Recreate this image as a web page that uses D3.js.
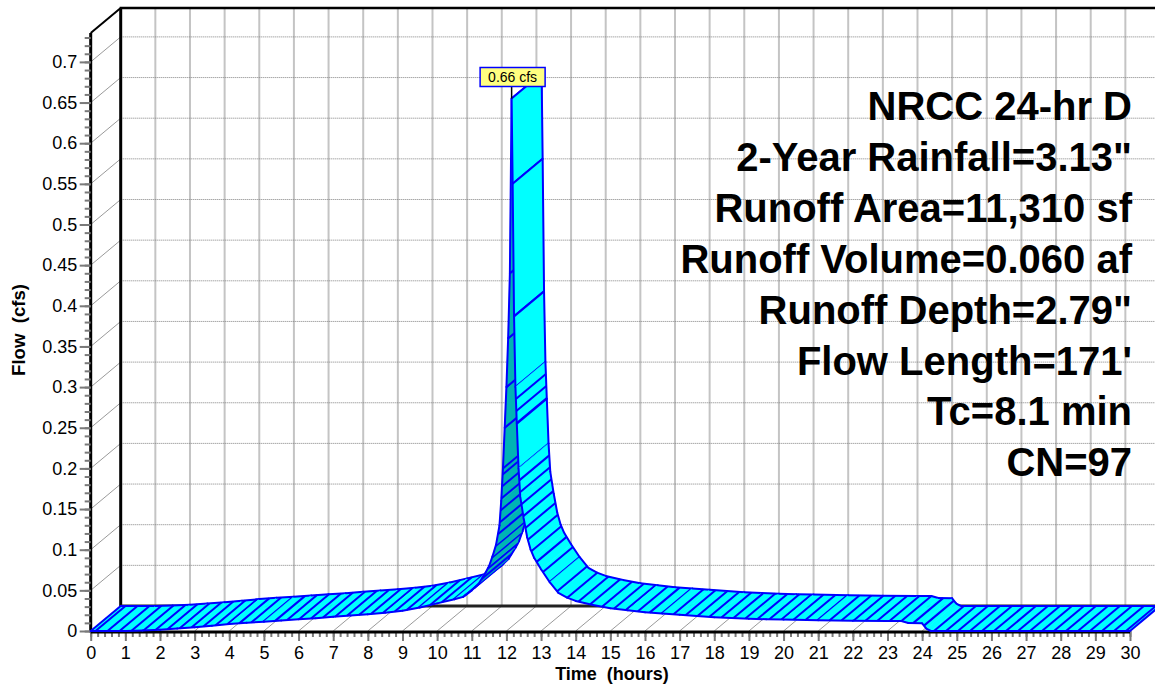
<!DOCTYPE html>
<html><head><meta charset="utf-8">
<script src="https://cdn.jsdelivr.net/npm/d3@7"></script>
<style>body{margin:0;background:#fff;overflow:hidden}svg{display:block}</style>
</head><body>
<svg id="c" width="1155" height="685"></svg>
<script>
// ---------- data ----------
const hours = [0, 1, 1.5, 2, 2.5, 3, 3.5, 4, 4.5, 5, 5.5, 6, 6.5, 7, 7.5, 8, 8.5, 9, 9.5, 10, 10.5, 10.75,
  11, 11.2, 11.4, 11.5, 11.6, 11.7, 11.8, 11.85, 11.9, 11.95, 12.0, 12.05, 12.1, 12.15, 12.18, 12.22, 12.26, 12.3, 12.35,
  12.4, 12.5, 12.6, 12.7, 12.8, 13.0, 13.25, 13.5, 13.75, 14, 14.5, 15, 15.5, 16, 16.5, 17, 17.5, 18, 18.5,
  19, 19.5, 20, 21, 22, 23, 23.4, 23.6, 24.0, 24.12, 24.25, 30];
const flowCfs = [0, 0, 0.0005, 0.0015, 0.003, 0.0045, 0.0065, 0.0085, 0.010, 0.0115, 0.013, 0.0145, 0.0158, 0.0175, 0.019, 0.0205, 0.0225, 0.025, 0.029, 0.034, 0.039, 0.042,
  0.050, 0.058, 0.072, 0.080, 0.092, 0.106, 0.130, 0.160, 0.200, 0.250, 0.300, 0.360, 0.440, 0.655, 0.550, 0.387, 0.300, 0.255, 0.200,
  0.165, 0.138, 0.115, 0.100, 0.090, 0.076, 0.060, 0.047, 0.041, 0.037, 0.032, 0.028, 0.0255, 0.023, 0.0215, 0.020, 0.0185, 0.017, 0.016,
  0.0152, 0.0145, 0.014, 0.0132, 0.0127, 0.0124, 0.0122, 0.0098, 0.0095, 0.003, 0, 0];
const peakLabel = "0.66 cfs";
const xTickValues = d3.range(0, 31);
const xMinorTicks = d3.range(0, 151).map(i => i / 5);
const yTickValues = d3.range(0, 15).map(i => i * 0.05);
const yTickLabels = ["0","0.05","0.1","0.15","0.2","0.25","0.3","0.35","0.4","0.45","0.5","0.55","0.6","0.65","0.7"];
const yMinorTicks = d3.range(0, 74).map(i => i / 100);
const infoLines = ["NRCC 24-hr D", "2-Year Rainfall=3.13\"", "Runoff Area=11,310 sf", "Runoff Volume=0.060 af",
  "Runoff Depth=2.79\"", "Flow Length=171'", "Tc=8.1 min", "CN=97"];
const xTitle = "Time  (hours)";
const yTitle = "Flow  (cfs)";

// ---------- layout ----------
const svg = d3.select("#c");
const x = d3.scaleLinear().domain([0, 30]).range([90.7, 1130]);
const y = d3.scaleLinear().domain([0, 0.7]).range([631, 61.9]);
const DX = 30, DY = -25;
const yTopVal = 0.7355;
const FONT = "'Liberation Sans', Arial, Helvetica, sans-serif";
const BLUE = "#0000ff";

// back wall vertical grid
svg.append("g").selectAll("line").data(xTickValues.filter(d => d > 0)).join("line")
  .attr("x1", d => x(d) + DX).attr("x2", d => x(d) + DX)
  .attr("y1", y(yTopVal) + DY).attr("y2", y(0) + DY)
  .attr("stroke", "#c4c4c4").attr("stroke-width", 2);
// back wall horizontal grid (dotted)
svg.append("g").selectAll("line").data(yTickValues.filter(d => d > 0)).join("line")
  .attr("x1", x(0) + DX).attr("x2", 1160)
  .attr("y1", d => y(d) + DY).attr("y2", d => y(d) + DY)
  .attr("stroke", "#808080").attr("stroke-width", 1).attr("stroke-dasharray", "1,1");
// left wall diagonals
svg.append("g").selectAll("line").data(yTickValues.filter(d => d > 0)).join("line")
  .attr("x1", x(0)).attr("x2", x(0) + DX)
  .attr("y1", d => y(d)).attr("y2", d => y(d) + DY)
  .attr("stroke", "#9a9a9a").attr("stroke-width", 1);
// floor diagonals
svg.append("g").selectAll("line").data(xTickValues.filter(d => d > 0 && d < 30)).join("line")
  .attr("x1", d => x(d)).attr("x2", d => x(d) + DX)
  .attr("y1", y(0)).attr("y2", y(0) + DY)
  .attr("stroke", "#9a9a9a").attr("stroke-width", 1);

// frame lines
const frame = svg.append("g").attr("stroke", "#000").attr("fill", "none");
frame.append("line").attr("x1", x(0) + DX).attr("x2", x(0) + DX).attr("y1", y(yTopVal) + DY).attr("y2", y(0) + DY).attr("stroke-width", 3);
frame.append("line").attr("x1", x(0) + DX - 1).attr("x2", 1160).attr("y1", y(yTopVal) + DY).attr("y2", y(yTopVal) + DY).attr("stroke-width", 2.5);
frame.append("line").attr("x1", x(0)).attr("x2", x(0) + DX).attr("y1", y(yTopVal)).attr("y2", y(yTopVal) + DY).attr("stroke-width", 2);
frame.append("line").attr("x1", x(0) + DX).attr("x2", 1160).attr("y1", y(0) + DY).attr("y2", y(0) + DY).attr("stroke", "#222").attr("stroke-width", 3);

// axes
const axisStyle = g => {
  g.select(".domain").remove();
  g.selectAll(".tick line").attr("stroke", "#7a7a7a").attr("stroke-width", 2);
  g.selectAll(".tick text").attr("fill", "#000").attr("font-size", 18).attr("font-family", FONT);
};
svg.append("g").attr("transform", `translate(0,${y(0)})`)
  .call(d3.axisBottom(x).tickValues(xMinorTicks).tickFormat("").tickSize(6).tickSizeOuter(0)).call(axisStyle);
svg.append("g").attr("transform", `translate(0,${y(0)})`)
  .call(d3.axisBottom(x).tickValues(xTickValues).tickFormat(d3.format("d")).tickSize(10).tickPadding(5).tickSizeOuter(0)).call(axisStyle);
svg.append("g").attr("transform", `translate(${x(0)},0)`)
  .call(d3.axisLeft(y).tickValues(yMinorTicks).tickFormat("").tickSize(6).tickSizeOuter(0)).call(axisStyle);
svg.append("g").attr("transform", `translate(${x(0)},0)`)
  .call(d3.axisLeft(y).tickValues(yTickValues).tickFormat((d, i) => yTickLabels[i]).tickSize(11).tickPadding(2.5).tickSizeOuter(0)).call(axisStyle);

frame.append("line").attr("x1", x(0)).attr("x2", x(0)).attr("y1", y(yTopVal)).attr("y2", y(0) + 1.5).attr("stroke-width", 3);
svg.append("line").attr("x1", x(0)).attr("x2", x(30)).attr("y1", y(0) + 1).attr("y2", y(0) + 1).attr("stroke", "#000").attr("stroke-width", 3);

// ---------- ribbon (3-D band, drawn segment by segment in time order) ----------
const pts = hours.map((t, i) => ({ fx: x(t), fy: y(flowCfs[i]) }));
const rib = svg.append("g");
const S = 12;          // spacing of the depth (hatch) lines along the curve, px
let acc = S * 0.6;     // distance since the last hatch line
for (let i = 0; i < pts.length - 1; i++) {
  const a = pts[i], b = pts[i + 1];
  const sx = b.fx - a.fx, sy = b.fy - a.fy;
  const L = Math.hypot(sx, sy);
  const under = (sx * DY - sy * DX) > 0;
  const poly = [[a.fx, a.fy], [b.fx, b.fy], [b.fx + DX, b.fy + DY], [a.fx + DX, a.fy + DY]];
  rib.append("path").attr("d", "M" + poly.map(p => p.join(",")).join("L") + "Z")
    .attr("fill", under ? "#00b4b4" : "#00ffff").attr("stroke", under ? "#00b4b4" : "#00ffff").attr("stroke-width", 0.6);
  const us = [];
  const steep = L > 40 && Math.abs(sx) < 0.1 * L;
  if (steep) { us.push(0, 1); acc = 0; }
  else {
    let s = S - acc;
    let last = null;
    while (s <= L) { us.push(s / L); last = s; s += S; }
    acc = last === null ? acc + L : L - last;
  }
  us.forEach(u => {
    const hx = a.fx + sx * u, hy = a.fy + sy * u;
    rib.append("line").attr("x1", hx).attr("y1", hy).attr("x2", hx + DX).attr("y2", hy + DY)
      .attr("stroke", BLUE).attr("stroke-width", 2);
  });
  rib.append("line").attr("x1", a.fx).attr("y1", a.fy).attr("x2", b.fx).attr("y2", b.fy)
    .attr("stroke", BLUE).attr("stroke-width", 2).attr("stroke-linecap", "round");
  rib.append("line").attr("x1", a.fx + DX).attr("y1", a.fy + DY).attr("x2", b.fx + DX).attr("y2", b.fy + DY)
    .attr("stroke", BLUE).attr("stroke-width", 2).attr("stroke-linecap", "round");
}
[pts[0], pts[pts.length - 1]].forEach(p => {
  rib.append("line").attr("x1", p.fx).attr("y1", p.fy).attr("x2", p.fx + DX).attr("y2", p.fy + DY)
    .attr("stroke", BLUE).attr("stroke-width", 2);
});

// ---------- peak label ----------
const pk = d3.maxIndex(flowCfs);
const px = x(hours[pk]), py = y(flowCfs[pk]);
svg.append("line").attr("x1", px).attr("x2", px).attr("y1", 86).attr("y2", py).attr("stroke", "#000").attr("stroke-width", 1.5);
svg.append("rect").attr("x", px - 31.5).attr("y", 67.5).attr("width", 65).attr("height", 19)
  .attr("fill", "#ffff80").attr("stroke", BLUE).attr("stroke-width", 1.5);
svg.append("text").attr("x", px + 1).attr("y", 82).attr("text-anchor", "middle")
  .attr("font-family", FONT).attr("font-size", 14).attr("fill", "#000").text(peakLabel);

// ---------- info text ----------
svg.append("g").selectAll("text").data(infoLines).join("text")
  .attr("x", 1132).attr("y", (d, i) => 120 + i * 50.9)
  .attr("text-anchor", "end").attr("font-family", FONT).attr("font-weight", "bold")
  .attr("font-size", 40).attr("fill", "#000").text(d => d);

// ---------- axis titles ----------
svg.append("text").attr("x", 612).attr("y", 680).attr("text-anchor", "middle")
  .attr("font-family", FONT).attr("font-weight", "bold").attr("font-size", 18)
  .style("white-space", "pre").text(xTitle);
svg.append("text").attr("transform", "translate(25,330) rotate(-90)").attr("text-anchor", "middle")
  .attr("font-family", FONT).attr("font-weight", "bold").attr("font-size", 18.6)
  .style("white-space", "pre").text(yTitle);
</script>
</body></html>
